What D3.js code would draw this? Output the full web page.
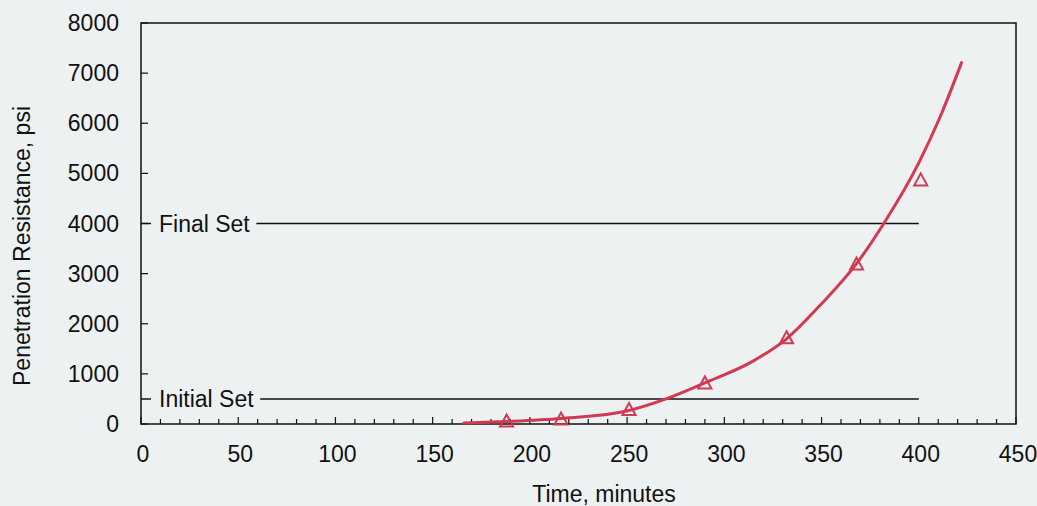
<!DOCTYPE html>
<html>
<head>
<meta charset="utf-8">
<script src="https://cdn.jsdelivr.net/npm/d3@7"></script>
<style>
  body { margin: 0; background: #eef1f1; }
  svg { display: block; font-family: "Liberation Sans", Arial, sans-serif; }
</style>
</head>
<body>
<svg></svg>
<script>
'use strict';

// measured readings (time in minutes, resistance in psi)
const obsTime = [188, 216, 251, 290, 332, 368, 401];
const obsPsi = [50, 90, 280, 810, 1710, 3180, 4860];
const fitTime = [166, 188, 216, 251, 270, 290, 315, 332, 350, 368, 382, 400, 411, 422];
const fitPsi = [20, 50, 110, 270, 500, 820, 1260, 1700, 2400, 3200, 4000, 5210, 6130, 7210];
const setNames = ["Initial Set", "Final Set"];
const setPsi = [500, 4000];
const setEnd = 400;
const xTicks = d3.range(0, 451, 50);
const xMinor = d3.range(0, 451, 10);
const yTicks = d3.range(0, 8001, 1000);

const width = 1037;
const height = 506;
const margin = {top: 23, right: 21, bottom: 82, left: 141};
const RED = "#d13a52";

var svg = d3.select("svg")
    .attr("width", width)
    .attr("height", height);

var x = d3.scaleLinear().domain([0, 450]).range([margin.left, width - margin.right]);
var y = d3.scaleLinear().domain([0, 8000]).range([height - margin.bottom, margin.top]);

// frame
svg.append("rect")
    .attr("x", x(0)).attr("y", y(8000))
    .attr("width", x(450) - x(0)).attr("height", y(0) - y(8000))
    .attr("fill", "none").attr("stroke", "#111").attr("stroke-width", 1.5);

// ticks (inward)
svg.append("g").selectAll("line")
    .data(xMinor)
    .enter().append("line")
    .attr("x1", d => x(d)).attr("x2", d => x(d))
    .attr("y1", y(0)).attr("y2", d => y(0) - (d % 50 === 0 ? 7 : 5))
    .attr("stroke", "#111").attr("stroke-width", 1.2);

svg.append("g").selectAll("line")
    .data(yTicks)
    .enter().append("line")
    .attr("x1", x(0)).attr("x2", x(0) + 7)
    .attr("y1", d => y(d)).attr("y2", d => y(d))
    .attr("stroke", "#111").attr("stroke-width", 1.2);

// tick labels
svg.append("g").selectAll("text")
    .data(xTicks)
    .enter().append("text")
    .attr("x", d => x(d) + 2).attr("y", y(0) + 38)
    .attr("text-anchor", "middle")
    .attr("font-size", 23).attr("fill", "#111")
    .text(d => d);

svg.append("g").selectAll("text")
    .data(yTicks)
    .enter().append("text")
    .attr("x", x(0) - 22).attr("y", d => y(d) + 8)
    .attr("text-anchor", "end")
    .attr("font-size", 23).attr("fill", "#111")
    .text(d => d);

// axis titles
svg.append("text")
    .attr("x", 604).attr("y", 502)
    .attr("text-anchor", "middle")
    .attr("font-size", 23).attr("fill", "#111")
    .text("Time, minutes");

svg.append("text")
    .attr("transform", "translate(30,246) rotate(-90)")
    .attr("text-anchor", "middle")
    .attr("font-size", 23).attr("fill", "#111")
    .text("Penetration Resistance, psi");

// set lines with labels
var sets = svg.append("g").selectAll("g")
    .data(setPsi)
    .enter().append("g");

sets.append("line")
    .attr("x1", x(0)).attr("x2", x(setEnd))
    .attr("y1", d => y(d)).attr("y2", d => y(d))
    .attr("stroke", "#111").attr("stroke-width", 1.5);

sets.append("rect")
    .attr("y", d => y(d) - 13)
    .attr("height", 26)
    .attr("fill", "#eef1f1");

sets.append("text")
    .attr("x", x(0) + 18).attr("y", d => y(d) + 8)
    .attr("font-size", 23).attr("fill", "#111")
    .text((d, i) => setNames[i]);

// blank the line behind each label
sets.each(function () {
    var g = d3.select(this);
    var box = g.select("text").node().getBBox();
    g.select("rect").attr("x", box.x - 8).attr("width", box.width + 14);
});

// fitted curve
var fit = fitTime.map((t, i) => [t, fitPsi[i]]);
svg.append("path")
    .datum(fit)
    .attr("d", d3.line().x(d => x(d[0])).y(d => y(d[1])).curve(d3.curveMonotoneX))
    .attr("fill", "none")
    .attr("stroke", RED)
    .attr("stroke-width", 3)
    .attr("stroke-linecap", "round");

// observed points, open triangles
svg.append("g").selectAll("path")
    .data(obsTime)
    .enter().append("path")
    .attr("transform", (d, i) => "translate(" + x(d) + "," + y(obsPsi[i]) + ")")
    .attr("d", "M0,-7L6.5,5L-6.5,5Z")
    .attr("fill", "none")
    .attr("stroke", RED)
    .attr("stroke-width", 2);
</script>
</body>
</html>
